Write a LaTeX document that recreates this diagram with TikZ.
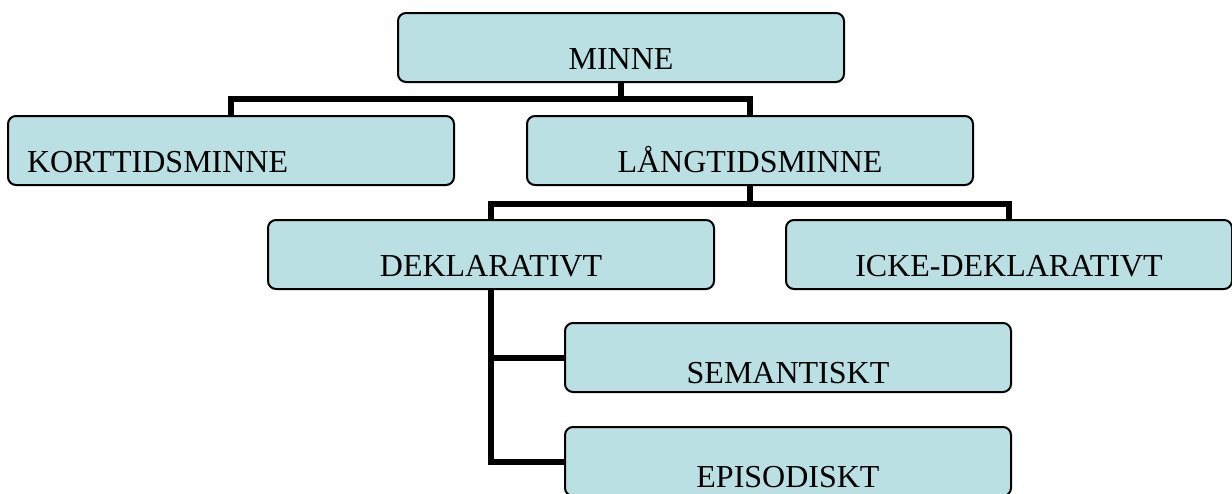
\documentclass[tikz,border=0pt]{standalone}
\usepackage{fontspec}
\setmainfont{Liberation Serif}
\usetikzlibrary{positioning}
\definecolor{memblue}{RGB}{186,224,227}

\begin{document}
\begin{tikzpicture}[x=0.5pt, y=-0.5pt,
  membox/.style={draw=black, line width=1pt, rounded corners=4pt, fill=memblue,
    minimum width=223pt, minimum height=34.5pt, inner sep=0pt,
    text height=21.6pt, text depth=0pt, font=\fontsize{16}{19}\selectfont},
  lowbox/.style={membox, text height=25.6pt},
  link/.style={draw=black, line width=3pt}]
\clip (0,0) rectangle (1232,493);
% Top
\node[membox] (minne) at (621,47.5) {MINNE};
% Second row
\node[membox, align=left, text width=204pt, inner xsep=9.5pt] (kort) at (231,150.5) {KORTTIDSMINNE};
\node[membox] (lang) at (750,150.5) {LÅNGTIDSMINNE};
% Third row
\node[membox] (dekl) at (491,254.5) {DEKLARATIVT};
\node[membox] (icke) at (1009,254.5) {ICKE-DEKLARATIVT};
% Sub items
\node[lowbox] (sem) at (788,357.5) {SEMANTISKT};
\node[lowbox] (epi) at (788,461.5) {EPISODISKT};
% Connectors
\draw[link] (minne.south) -- ++(0,16) -| (kort.north);
\draw[link] (minne.south) -- ++(0,16) -| (lang.north);
\draw[link] (lang.south) -- ++(0,18) -| (dekl.north);
\draw[link] (lang.south) -- ++(0,18) -| (icke.north);
\draw[link] (dekl.south) |- (sem.west);
\draw[link] (dekl.south) |- (epi.west);
\end{tikzpicture}
\end{document}
